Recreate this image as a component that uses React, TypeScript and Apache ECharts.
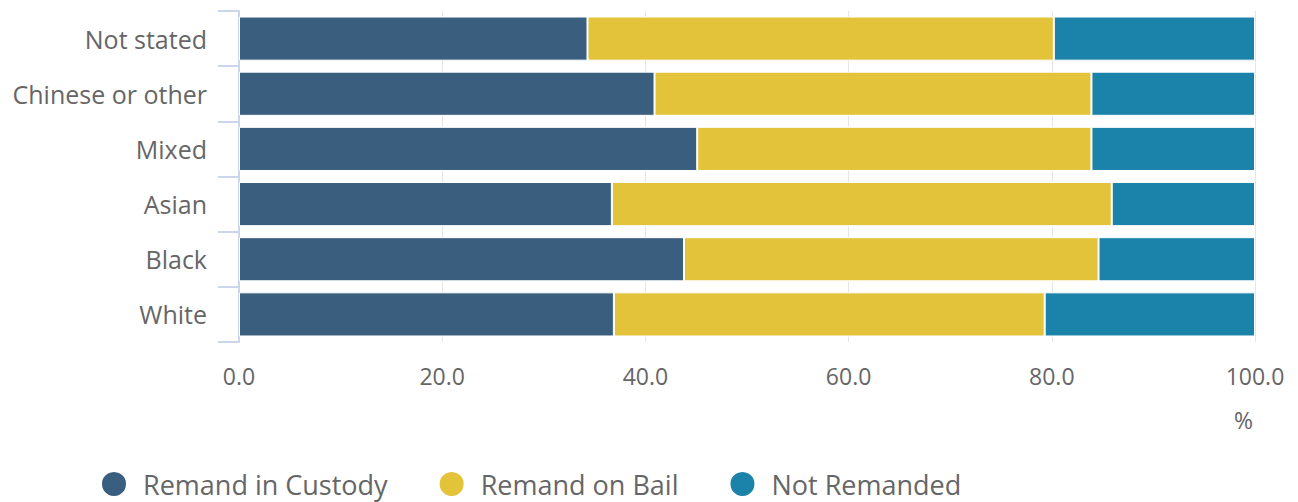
import React, { useEffect, useRef } from "react";
import * as echarts from "echarts";

const categories = ["White", "Black", "Asian", "Mixed", "Chinese or other", "Not stated"];
const custody = [36.9, 43.8, 36.7, 45.1, 40.9, 34.3];
const bail = [42.4, 40.8, 49.2, 38.8, 43.0, 45.9];
const notRemanded = [20.7, 15.4, 14.1, 16.1, 16.1, 19.8];
const seriesNames = ["Remand in Custody", "Remand on Bail", "Not Remanded"];
const colors = ["#3a5e7e", "#e3c33a", "#1b83aa"];
const xTicks = { min: 0, max: 100, interval: 20 };

const FONT = "'Open Sans', sans-serif";

export default function App() {
  const ref = useRef<HTMLDivElement>(null);
  useEffect(() => {
    if (!ref.current) return;
    const chart = echarts.init(ref.current, undefined, { renderer: "svg" });
    const values = [custody, bail, notRemanded];
    chart.setOption({
      animation: false,
      color: colors,
      textStyle: { fontFamily: FONT },
      grid: { left: 239, right: 43, top: 11, bottom: 160, containLabel: false },
      xAxis: {
        type: "value",
        min: xTicks.min,
        max: xTicks.max,
        interval: xTicks.interval,
        axisLine: { show: false },
        axisTick: { show: false },
        splitLine: { lineStyle: { color: "#e6e6e6", width: 1 } },
        axisLabel: {
          formatter: (v: number) => v.toFixed(1),
          color: "#666666",
          fontSize: 23,
          fontFamily: FONT,
          margin: 22,
        },
      },
      yAxis: {
        type: "category",
        data: categories,
        axisLine: { show: true, lineStyle: { color: "#ccd6eb", width: 2 } },
        axisTick: { show: true, length: 21, lineStyle: { color: "#ccd6eb", width: 2 } },
        axisLabel: { color: "#666666", fontSize: 25, fontFamily: FONT, margin: 32, padding: [3, 0, 0, 0] },
        splitLine: { show: false },
      },
      legend: {
        left: 100,
        top: 470,
        icon: "circle",
        itemWidth: 26,
        itemHeight: 26,
        itemGap: 50,
        padding: 0,
        textStyle: { color: "#666666", fontSize: 27, fontFamily: FONT, padding: [0, 0, 0, 11] },
        data: seriesNames,
      },
      graphic: [
        {
          type: "text",
          left: 1234,
          top: 408,
          style: { text: "%", fill: "#666666", fontSize: 23, fontFamily: FONT },
        },
      ],
      series: seriesNames.map((name, i) => ({
        name,
        type: "bar",
        stack: "total",
        barCategoryGap: "20%",
        data: values[i],
        itemStyle: { color: colors[i], borderColor: "#ffffff", borderWidth: 1 },
      })),
    });
    return () => chart.dispose();
  }, []);
  return (
    <div
      ref={ref}
      style={{ position: "fixed", left: 0, top: 0, width: 1298, height: 502, background: "#ffffff" }}
    />
  );
}
